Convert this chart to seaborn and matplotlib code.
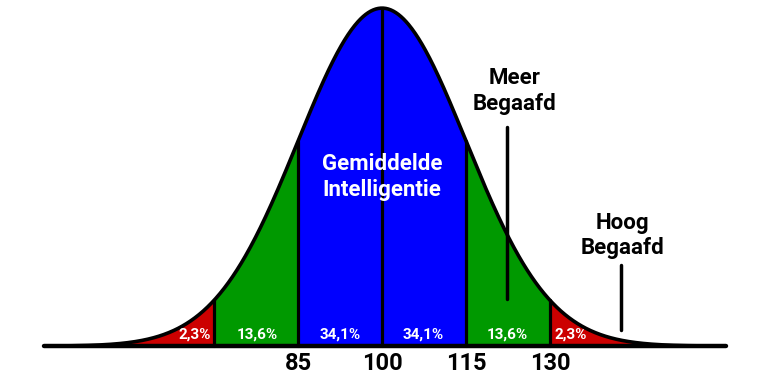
import numpy as np
import pandas as pd
import matplotlib.pyplot as plt
import seaborn as sns

# verdeling
gemiddelde = 100
sd = 15
grenzen = [40, 70, 85, 115, 130, 160]
kleuren = ['#cc0000', '#009900', '#0000ff', '#009900', '#cc0000']
scheidingen = [70, 85, 100, 115, 130]
ticks = [85, 100, 115, 130]
pct_labels = ['2,3%', '13,6%', '34,1%', '34,1%', '13,6%', '2,3%']
pct_pos = [66.6, 77.7, 92.5, 107.3, 122.3, 133.6]

sns.set_style('white')
plt.rcParams['font.family'] = ['Roboto', 'DejaVu Sans']


def dichtheid(x):
    # genormaliseerd zodat de top op 1 ligt
    return np.exp(-0.5 * ((np.asarray(x) - gemiddelde) / sd) ** 2)


x = np.linspace(grenzen[0], grenzen[-1], 800)
df = pd.DataFrame({'iq': x, 'y': dichtheid(x)})

fig = plt.figure(figsize=(7.68, 3.84), dpi=100)
ax = fig.add_axes([0, 0, 1, 1])

for i, kleur in enumerate(kleuren):
    xs = np.linspace(grenzen[i], grenzen[i + 1], 200)
    ax.fill_between(xs, 0, dichtheid(xs), color=kleur, lw=0)

for s in scheidingen:
    ax.plot([s, s], [0, dichtheid(s)], color='black', lw=2.3)

sns.lineplot(data=df, x='iq', y='y', color='black', lw=2.6, ax=ax)
ax.plot([39.6, 161.4], [0, 0], color='black', lw=3.2, solid_capstyle='round')

for lab, p in zip(pct_labels, pct_pos):
    ax.text(p, 0.033, lab, color='white', fontsize=11, fontweight='bold',
            ha='center', va='center')

for t in ticks:
    ax.text(t, -0.05, str(t), color='black', fontsize=17, fontweight='bold',
            ha='center', va='center')

ax.text(100, 0.50, 'Gemiddelde\nIntelligentie', color='white', fontsize=16,
        fontweight='bold', ha='center', va='center', linespacing=1.2)

# annotaties
ax.plot([122.3, 122.3], [0.139, 0.648], color='black', lw=2.5)
ax.text(123.7, 0.755, 'Meer\nBegaafd', color='black', fontsize=16,
        fontweight='bold', ha='center', va='center', linespacing=1.2)
ax.plot([142.7, 142.7], [0.047, 0.24], color='black', lw=2.5)
ax.text(142.9, 0.328, 'Hoog\nBegaafd', color='black', fontsize=16,
        fontweight='bold', ha='center', va='center', linespacing=1.2)

ax.set_xlim(31.8, 168.9)
ax.set_ylim(-0.112, 1.024)
ax.axis('off')

fig.savefig('out.png', dpi=100)
